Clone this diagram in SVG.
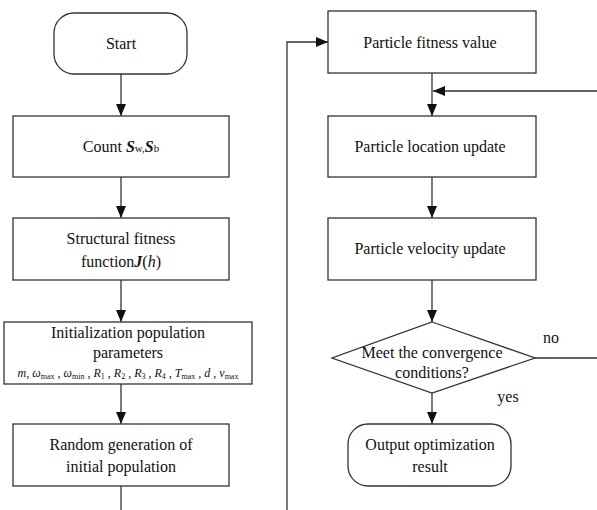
<svg xmlns="http://www.w3.org/2000/svg" width="597" height="510" viewBox="0 0 597 510" font-family="'Liberation Serif', 'DejaVu Serif', serif">
<style>
.box{fill:#fff;stroke:#333;stroke-width:1.3}
.ln{fill:none;stroke:#333;stroke-width:1.3}
text{font-family:'Liberation Serif','DejaVu Serif',serif;font-size:16px;fill:#111;text-anchor:middle}
.f{font-size:12px;font-style:italic}
.s{font-size:8px;font-style:normal}
.bi{font-weight:bold;font-style:italic}
</style>
<defs>
<marker id="ah" viewBox="0 0 12 10" refX="12" refY="5" markerWidth="12" markerHeight="10" markerUnits="userSpaceOnUse" orient="auto">
<path d="M0,0 L12,5 L0,10 Z" fill="#111"/>
</marker>
</defs>
<rect width="597" height="510" fill="#fff"/>
<g id="connectors">
<line class="ln" x1="121" y1="74" x2="121" y2="116" marker-end="url(#ah)"/>
<line class="ln" x1="121" y1="177" x2="121" y2="218" marker-end="url(#ah)"/>
<line class="ln" x1="121" y1="280" x2="121" y2="322" marker-end="url(#ah)"/>
<line class="ln" x1="121" y1="384" x2="121" y2="424" marker-end="url(#ah)"/>
<line class="ln" x1="121" y1="486" x2="121" y2="510"/>
<polyline class="ln" points="287,510 287,42 328,42" marker-end="url(#ah)"/>
<line class="ln" x1="432" y1="73" x2="432" y2="116" marker-end="url(#ah)"/>
<line class="ln" x1="597" y1="91" x2="433" y2="91" marker-end="url(#ah)"/>
<line class="ln" x1="432" y1="177" x2="432" y2="218" marker-end="url(#ah)"/>
<line class="ln" x1="432" y1="280" x2="432" y2="322" marker-end="url(#ah)"/>
<line class="ln" x1="535" y1="358" x2="597" y2="358"/>
<line class="ln" x1="432" y1="393" x2="432" y2="424" marker-end="url(#ah)"/>
<text x="551" y="343">no</text>
<text x="508" y="402">yes</text>
</g>
<g id="start">
<rect class="box" x="54" y="13" width="133" height="61" rx="20"/>
<text x="121" y="49">Start</text>
</g>
<g id="count">
<rect class="box" x="13" y="116" width="216" height="61"/>
<text x="121" y="152">Count <tspan class="bi">S</tspan><tspan font-size="11px">w,</tspan><tspan class="bi">S</tspan><tspan font-size="11px">b</tspan></text>
</g>
<g id="structural">
<rect class="box" x="13" y="218" width="216" height="62"/>
<text x="121" y="244">Structural fitness</text>
<text x="121" y="267">function<tspan class="bi">J</tspan>(<tspan font-style="italic">h</tspan>)</text>
</g>
<g id="init">
<rect class="box" x="4" y="322" width="248" height="62"/>
<text x="128" y="338">Initialization population</text>
<text x="128" y="358">parameters</text>
<text class="f" x="128" y="377">m, ω<tspan class="s" dy="2">max</tspan><tspan dy="-2"> , ω</tspan><tspan class="s" dy="2">min</tspan><tspan dy="-2"> , R</tspan><tspan class="s" dy="2">1</tspan><tspan dy="-2"> , R</tspan><tspan class="s" dy="2">2</tspan><tspan dy="-2"> , R</tspan><tspan class="s" dy="2">3</tspan><tspan dy="-2"> , R</tspan><tspan class="s" dy="2">4</tspan><tspan dy="-2"> , T</tspan><tspan class="s" dy="2">max</tspan><tspan dy="-2"> , d , v</tspan><tspan class="s" dy="2">max</tspan></text>
</g>
<g id="random">
<rect class="box" x="13" y="424" width="216" height="62"/>
<text x="121" y="450">Random generation of</text>
<text x="121" y="472">initial population</text>
</g>
<g id="fitness">
<rect class="box" x="328" y="11" width="208" height="62"/>
<text x="430" y="48">Particle fitness value</text>
</g>
<g id="location">
<rect class="box" x="328" y="116" width="208" height="61"/>
<text x="430" y="152">Particle location update</text>
</g>
<g id="velocity">
<rect class="box" x="328" y="218" width="208" height="62"/>
<text x="430" y="254">Particle velocity update</text>
</g>
<g id="converge">
<polygon class="box" points="432,322 535,358 432,393 332,358"/>
<text x="432" y="358">Meet the convergence</text>
<text x="432" y="378">conditions?</text>
</g>
<g id="output">
<rect class="box" x="348" y="424" width="163" height="62" rx="20"/>
<text x="430" y="450">Output optimization</text>
<text x="430" y="472">result</text>
</g>
</svg>
